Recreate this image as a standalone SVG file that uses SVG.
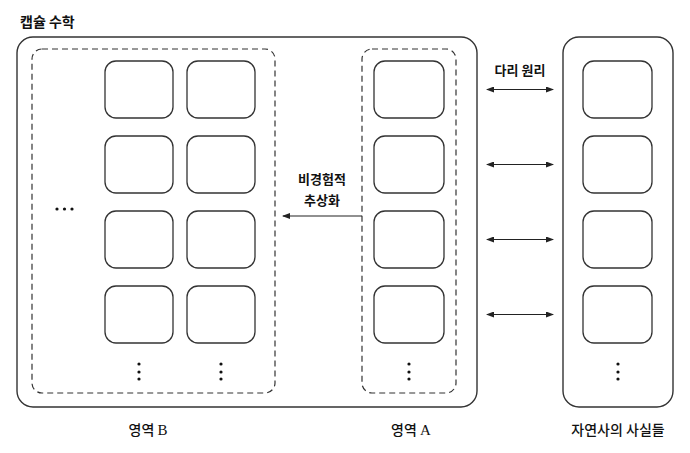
<svg xmlns="http://www.w3.org/2000/svg" width="690" height="453" viewBox="0 0 690 453">
<defs>
<style>
.frame{fill:none;stroke:#333;stroke-width:1.4}
.dash{fill:none;stroke:#333;stroke-width:1.2;stroke-dasharray:6 4}
.box{fill:#fff;stroke:#333;stroke-width:1.3}
.lbl{font-family:"Noto Sans CJK KR","Noto Sans",sans-serif;font-size:13px;font-weight:700;fill:#111;text-anchor:middle}
.cap{font-family:"Noto Sans CJK KR","Liberation Serif",serif;font-size:14px;font-weight:500;fill:#111;text-anchor:middle}
.lat{font-family:"Liberation Serif",serif;font-size:15px;font-weight:400}
.conn{stroke:#222;stroke-width:1.1;fill:none}
.dot{fill:#111}
</style>
<marker id="ah" markerWidth="8" markerHeight="6" refX="7" refY="3" orient="auto-start-reverse" markerUnits="userSpaceOnUse">
<path d="M0,0 L8,3 L0,6 z" fill="#222"/>
</marker>
</defs>
<rect width="690" height="453" fill="#fff"/>
<text x="20" y="27" class="lbl" style="text-anchor:start;font-size:14px">캡슐 수학</text>
<g id="capsule"><rect class="frame" x="17" y="37" width="460" height="370" rx="16"/></g>
<g id="regionB"><rect class="dash" x="32" y="49" width="243" height="344" rx="10"/>
<g class="dot"><circle cx="57" cy="209" r="1.6"/><circle cx="64.5" cy="209" r="1.6"/><circle cx="72" cy="209" r="1.6"/>
<circle cx="139" cy="364" r="1.6"/><circle cx="139" cy="372" r="1.6"/><circle cx="139" cy="379" r="1.6"/>
<circle cx="221" cy="364" r="1.6"/><circle cx="221" cy="372" r="1.6"/><circle cx="221" cy="379" r="1.6"/></g>
</g>
<g id="b11"><rect class="box" x="105" y="61" width="68" height="57" rx="11"/></g>
<g id="b12"><rect class="box" x="187" y="61" width="68" height="57" rx="11"/></g>
<g id="b21"><rect class="box" x="105" y="136" width="68" height="57" rx="11"/></g>
<g id="b22"><rect class="box" x="187" y="136" width="68" height="57" rx="11"/></g>
<g id="b31"><rect class="box" x="105" y="211" width="68" height="57" rx="11"/></g>
<g id="b32"><rect class="box" x="187" y="211" width="68" height="57" rx="11"/></g>
<g id="b41"><rect class="box" x="105" y="286" width="68" height="57" rx="11"/></g>
<g id="b42"><rect class="box" x="187" y="286" width="68" height="57" rx="11"/></g>
<g id="regionA"><rect class="dash" x="362" y="49" width="94" height="344" rx="10"/>
<g class="dot"><circle cx="409" cy="364" r="1.6"/><circle cx="409" cy="372" r="1.6"/><circle cx="409" cy="379" r="1.6"/></g>
</g>
<g id="a1"><rect class="box" x="374" y="61" width="70" height="57" rx="11"/></g>
<g id="a2"><rect class="box" x="374" y="136" width="70" height="57" rx="11"/></g>
<g id="a3"><rect class="box" x="374" y="211" width="70" height="57" rx="11"/></g>
<g id="a4"><rect class="box" x="374" y="286" width="70" height="57" rx="11"/></g>
<g id="facts"><rect class="frame" x="563" y="37" width="110" height="370" rx="16"/>
<g class="dot"><circle cx="618" cy="364" r="1.6"/><circle cx="618" cy="372" r="1.6"/><circle cx="618" cy="379" r="1.6"/></g>
</g>
<g id="f1"><rect class="box" x="583" y="61" width="69" height="57" rx="11"/></g>
<g id="f2"><rect class="box" x="583" y="136" width="69" height="57" rx="11"/></g>
<g id="f3"><rect class="box" x="583" y="211" width="69" height="57" rx="11"/></g>
<g id="f4"><rect class="box" x="583" y="286" width="69" height="57" rx="11"/></g>
<g id="connectors">
<line class="conn" x1="362" y1="216" x2="283" y2="216" marker-end="url(#ah)"/>
<line class="conn" x1="487" y1="89.5" x2="553" y2="89.5" marker-start="url(#ah)" marker-end="url(#ah)"/>
<line class="conn" x1="487" y1="164.5" x2="553" y2="164.5" marker-start="url(#ah)" marker-end="url(#ah)"/>
<line class="conn" x1="487" y1="239.5" x2="553" y2="239.5" marker-start="url(#ah)" marker-end="url(#ah)"/>
<line class="conn" x1="487" y1="314.5" x2="553" y2="314.5" marker-start="url(#ah)" marker-end="url(#ah)"/>
</g>
<text x="322" y="184" class="lbl">비경험적</text>
<text x="322" y="205" class="lbl">추상화</text>
<text x="520" y="75" class="lbl">다리 원리</text>
<text x="148" y="435" class="cap">영역 <tspan class="lat">B</tspan></text>
<text x="411" y="435" class="cap">영역 <tspan class="lat">A</tspan></text>
<text x="618" y="435" class="cap">자연사의 사실들</text>
</svg>
